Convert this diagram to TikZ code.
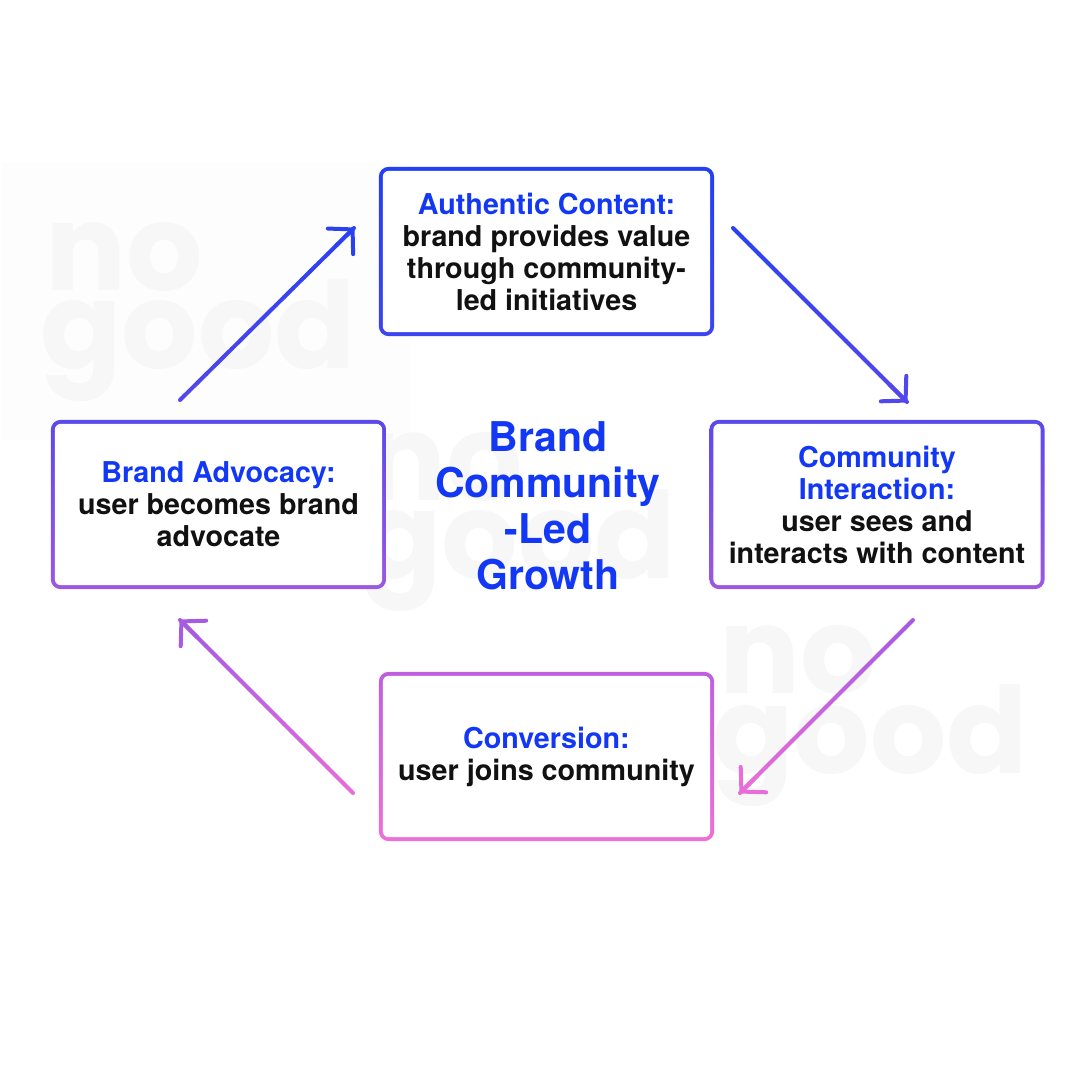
\documentclass[tikz,border=0pt]{standalone}
\usepackage{fontspec}
\setmainfont{TeX Gyre Heros}
\newfontfamily\wmfont{Poppins}
\usetikzlibrary{arrows.meta,calc,backgrounds}
\definecolor{brandblue}{HTML}{1238F5}
\definecolor{txtblack}{HTML}{111111}
\definecolor{wmgray}{HTML}{F7F7F7}
\definecolor{panelgray}{HTML}{FDFDFD}
\definecolor{cA}{HTML}{2340F3}
\definecolor{cB}{HTML}{3D45EF}
\definecolor{cC}{HTML}{5B49EA}
\definecolor{cD}{HTML}{9D58E0}
\definecolor{cE}{HTML}{C05EE0}
\definecolor{cF}{HTML}{EE70D8}
\definecolor{aTop}{HTML}{2A41F2}
\definecolor{aMid}{HTML}{5247EC}
\definecolor{aLow}{HTML}{A75AE2}
\definecolor{aBot}{HTML}{E66DDA}
\newcommand\gradarrow[4]{%
  \foreach \i in {0,...,19}{%
    \pgfmathsetmacro\ta{\i/20}%
    \pgfmathsetmacro\tb{(\i+1)/20}%
    \pgfmathtruncatemacro\pc{100-\i*100/19}%
    \draw[arr, color=#3!\pc!#4] ($(#1)!\ta!(#2)$) -- ($(#1)!\tb!(#2)$);
  }
  \draw[arr, color=#4, -{Straight Barb[length=17pt,width=36pt,line cap=round,line join=round]}] ($(#1)!0.9!(#2)$) -- (#2);
}
\begin{document}
\begin{tikzpicture}[x=1pt,y=-1pt,
  box/.style={rectangle, minimum width=331pt, minimum height=165pt, inner sep=0pt,
    align=center, text=txtblack, font=\bfseries\fontsize{28.7}{32}\selectfont},
  titletext/.style={align=center, text=brandblue, inner sep=0pt,
    font=\bfseries\fontsize{41}{46}\selectfont},
  wm/.style={anchor=base west, inner sep=0pt, text=wmgray,
    font=\wmfont\bfseries\fontsize{120}{120}\selectfont},
  arr/.style={line width=4pt, line cap=round, line join=round}]
\useasboundingbox (0,0) rectangle (1080,1080);

% boxes
\node[box] (auth) at (546.5,251.5) {\textcolor{brandblue}{Authentic Content:}\\brand provides value\\through community-\\led initiatives};
\node[box] (adv) at (218.5,504.5) {\textcolor{brandblue}{Brand Advocacy:}\\user becomes brand\\advocate};
\node[box] (inter) at (877,504.5) {\textcolor{brandblue}{Community}\\\textcolor{brandblue}{Interaction:}\\user sees and\\interacts with content};
\node[box] (conv) at (546.5,756.5) {\textcolor{brandblue}{Conversion:}\\user joins community};
\node[titletext] (title) at (548,506) {Brand\\Community\\-Led\\Growth};

\begin{scope}[on background layer]
  \fill[white] (0,0) rectangle (1080,1080);
  \fill[panelgray] (2,163) rectangle (410,440);
  % watermarks
  \node[wm] (wm1a) at (45,290) {no};
  \node[wm] (wm1b) at (40,368) {good};
  \node[wm] (wm2a) at (365,500) {no};
  \node[wm] (wm2b) at (360,578) {good};
  \node[wm] (wm3a) at (719,693) {no};
  \node[wm] (wm3b) at (712,773) {good};
  % box rings
  \foreach \n/\ca/\cb in {auth/cA/cB, adv/cC/cD, inter/cC/cD, conv/cE/cF}{
    \shade[top color=\ca, bottom color=\cb, rounded corners=10pt]
      ([shift={(-2,-2)}]\n.north west) rectangle ([shift={(2,2)}]\n.south east);
    \fill[white, rounded corners=6pt]
      ([shift={(2,2)}]\n.north west) rectangle ([shift={(-2,-2)}]\n.south east);
  }
\end{scope}

% arrows
\coordinate (a1s) at (180,400);
\coordinate (a1e) at (354,228);
\coordinate (a2s) at (733,228);
\coordinate (a2e) at (907,402);
\coordinate (a3s) at (913,620);
\coordinate (a3e) at (740,793);
\coordinate (a4s) at (353,793);
\coordinate (a4e) at (180,620);
\gradarrow{a1s}{a1e}{aMid}{aTop}
\gradarrow{a2s}{a2e}{aTop}{aMid}
\gradarrow{a3s}{a3e}{aLow}{aBot}
\gradarrow{a4s}{a4e}{aBot}{aLow}
\end{tikzpicture}
\end{document}
